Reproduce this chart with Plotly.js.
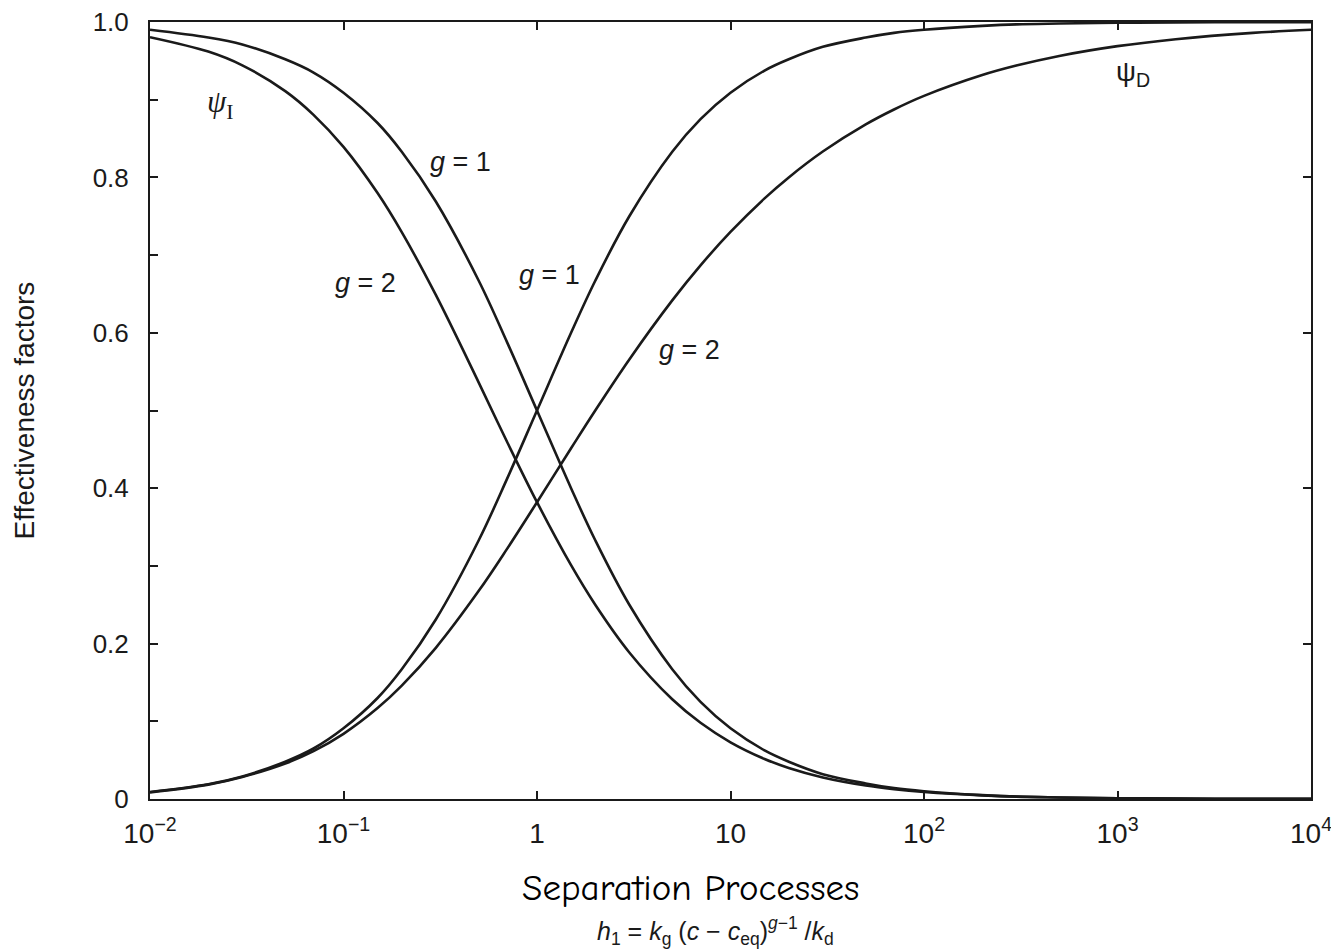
<!DOCTYPE html>
<html>
<head>
<meta charset="utf-8">
<script src="https://cdn.plot.ly/plotly-3.0.1.min.js"></script>
<style>
  html, body { margin: 0; padding: 0; background: #ffffff; }
  #chart { width: 1331px; height: 951px; }
</style>
</head>
<body>
<div id="chart"></div>
<script>
// x: dimensionless group h1 (log scale)
const h1Values = [0.01, 0.02, 0.03, 0.05, 0.07, 0.1, 0.15, 0.2, 0.3, 0.5, 0.7, 1, 1.5, 2, 3, 5, 7, 10, 15, 20, 30, 50, 70, 100, 200, 300, 500, 1000, 2000, 5000, 10000];

// Effectiveness factors
const psiI_g1 = [0.990, 0.980, 0.971, 0.952, 0.935, 0.909, 0.870, 0.833, 0.769, 0.667, 0.588, 0.500, 0.400, 0.333, 0.250, 0.167, 0.125, 0.091, 0.0625, 0.048, 0.032, 0.020, 0.014, 0.010, 0.005, 0.003, 0.002, 0.001, 0.0005, 0.0002, 0.0001];
const psiI_g2 = [0.9805, 0.9619, 0.9442, 0.9110, 0.8805, 0.8392, 0.7798, 0.7295, 0.6487, 0.5359, 0.4598, 0.3820, 0.3009, 0.2500, 0.1886, 0.1283, 0.0981, 0.0730, 0.0515, 0.0400, 0.0278, 0.0174, 0.0127, 0.0091, 0.0047, 0.0032, 0.0019, 0.0010, 0.0005, 0.0002, 0.0001];
const psiD_g1 = [0.009, 0.019, 0.029, 0.048, 0.065, 0.091, 0.130, 0.167, 0.231, 0.333, 0.412, 0.500, 0.600, 0.667, 0.750, 0.833, 0.875, 0.909, 0.9375, 0.952, 0.968, 0.980, 0.986, 0.990, 0.995, 0.997, 0.998, 0.999, 0.9995, 0.9998, 0.9999];
const psiD_g2 = [0.0085, 0.0185, 0.0283, 0.0456, 0.0616, 0.0839, 0.1170, 0.1459, 0.1946, 0.2679, 0.3219, 0.3820, 0.4514, 0.5000, 0.5657, 0.6417, 0.6868, 0.7298, 0.7730, 0.8000, 0.8333, 0.8682, 0.8874, 0.9049, 0.9317, 0.9439, 0.9563, 0.9689, 0.9779, 0.9860, 0.9900];

// Tick labels
const xTickVals = [0.01, 0.1, 1, 10, 100, 1000, 10000];
const xTickText = ['10<sup>\u22122</sup>', '10<sup>\u22121</sup>', '1', '10', '10<sup>2</sup>', '10<sup>3</sup>', '10<sup>4</sup>'];
const yTickVals = [0, 0.2, 0.4, 0.6, 0.8, 1.0];
const yTickText = ['0', '0.2', '0.4', '0.6', '0.8', '1.0'];
const yMinorVals = [0.1, 0.3, 0.5, 0.7, 0.9];

const ink = '#1a1a1a';
const lineStyle = { color: ink, width: 2.6, shape: 'spline', smoothing: 1.0 };

const traces = [
  { x: h1Values, y: psiI_g1, mode: 'lines', line: lineStyle, name: '\u03c8I g=1', hoverinfo: 'skip' },
  { x: h1Values, y: psiI_g2, mode: 'lines', line: lineStyle, name: '\u03c8I g=2', hoverinfo: 'skip' },
  { x: h1Values, y: psiD_g1, mode: 'lines', line: lineStyle, name: '\u03c8D g=1', hoverinfo: 'skip' },
  { x: h1Values, y: psiD_g2, mode: 'lines', line: lineStyle, name: '\u03c8D g=2', hoverinfo: 'skip' },
  { x: [], y: [], xaxis: 'x2', yaxis: 'y2', mode: 'lines', showlegend: false, hoverinfo: 'skip' }
];

const sans = 'Liberation Sans, Arial, Helvetica, sans-serif';
const xTickFont = { family: sans, size: 28, color: ink };
const yTickFont = { family: sans, size: 26, color: ink };
const labelFont = { family: sans, size: 27, color: ink };

const layout = {
  width: 1331,
  height: 951,
  margin: { l: 150, r: 20, t: 22, b: 152 },
  paper_bgcolor: '#ffffff',
  plot_bgcolor: '#ffffff',
  showlegend: false,
  xaxis: {
    type: 'log', range: [-2, 4],
    showline: true, linecolor: ink, linewidth: 2, mirror: true,
    ticks: 'inside', ticklen: 8, tickwidth: 2, tickcolor: ink,
    tickmode: 'array', tickvals: xTickVals, ticktext: xTickText,
    tickfont: xTickFont, ticklabelstandoff: 8, ticklabeloverflow: 'allow',
    showgrid: false, zeroline: false
  },
  yaxis: {
    range: [0, 1],
    showline: true, linecolor: ink, linewidth: 2, mirror: true,
    ticks: 'inside', ticklen: 8, tickwidth: 2, tickcolor: ink,
    tickmode: 'array', tickvals: yTickVals, ticktext: yTickText,
    minor: { tickmode: 'array', tickvals: yMinorVals, ticks: 'inside', ticklen: 8, tickwidth: 2, tickcolor: ink, showgrid: false },
    tickfont: yTickFont, ticklabelstandoff: 14, ticklabeloverflow: 'allow',
    showgrid: false, zeroline: false
  },
  xaxis2: {
    type: 'log', range: [-2, 4], overlaying: 'x', side: 'top',
    showline: false, ticks: 'inside', ticklen: 8, tickwidth: 2, tickcolor: ink,
    tickmode: 'array', tickvals: xTickVals, showticklabels: false,
    showgrid: false, zeroline: false
  },
  yaxis2: {
    range: [0, 1], overlaying: 'y', side: 'right',
    showline: false, ticks: 'inside', ticklen: 8, tickwidth: 2, tickcolor: ink,
    tickmode: 'array', tickvals: yTickVals, showticklabels: false,
    showgrid: false, zeroline: false
  },
  annotations: [
    { xref: 'paper', yref: 'paper', x: -0.1077, y: 0.5, text: 'Effectiveness factors', textangle: -90,
      showarrow: false, font: { family: sans, size: 28, color: ink }, xanchor: 'center', yanchor: 'middle' },
    { xref: 'paper', yref: 'paper', x: 0.4652, y: -0.1140, text: 'Separation Processes',
      showarrow: false, font: { family: 'Comic Sans MS, Comic Neue, Lato, sans-serif', size: 37, color: '#000' },
      xanchor: 'center', yanchor: 'middle' },
    { xref: 'paper', yref: 'paper', x: 0.4867, y: -0.1700,
      text: '<i>h</i><sub>1</sub> = <i>k</i><sub>g</sub> (<i>c</i> \u2212 <i>c</i><sub>eq</sub>)<sup><i>g</i>\u22121</sup> /<i>k</i><sub>d</sub>',
      showarrow: false, font: { family: sans, size: 25, color: ink },
      xanchor: 'center', yanchor: 'middle' },
    { xref: 'x', yref: 'y', x: -1.638, y: 0.895, text: '<i>\u03c8</i><sub>I</sub>', showarrow: false,
      font: { family: 'Liberation Serif, Times New Roman, serif', size: 31, color: ink } },
    { xref: 'x', yref: 'y', x: 3.08, y: 0.934, text: '\u03c8<sub>D</sub>', showarrow: false,
      font: { family: sans, size: 28, color: ink } },
    { xref: 'x', yref: 'y', x: -0.393, y: 0.820, text: '<i>g</i> = 1', showarrow: false, font: labelFont },
    { xref: 'x', yref: 'y', x: -0.884, y: 0.664, text: '<i>g</i> = 2', showarrow: false, font: labelFont },
    { xref: 'x', yref: 'y', x: 0.062, y: 0.674, text: '<i>g</i> = 1', showarrow: false, font: labelFont },
    { xref: 'x', yref: 'y', x: 0.786, y: 0.578, text: '<i>g</i> = 2', showarrow: false, font: labelFont }
  ]
};

Plotly.newPlot('chart', traces, layout, { staticPlot: true, displayModeBar: false });
</script>
</body>
</html>
